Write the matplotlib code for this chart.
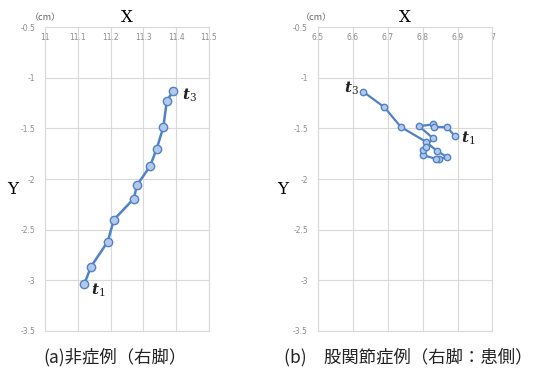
import matplotlib
matplotlib.use("Agg")
import matplotlib.pyplot as plt

plt.rcParams['font.family'] = ['Noto Sans CJK JP', 'DejaVu Sans']
plt.rcParams['mathtext.fontset'] = 'dejavuserif'

# Data
a_x = [11.391, 11.371, 11.361, 11.340, 11.320, 11.280, 11.271, 11.210, 11.191, 11.140, 11.120]
a_y = [-1.127, -1.235, -1.487, -1.706, -1.876, -2.062, -2.193, -2.402, -2.620, -2.866, -3.036]
b_x = [6.630, 6.691, 6.738, 6.809, 6.840, 6.871, 6.847, 6.837, 6.800, 6.800, 6.809, 6.830,
       6.790, 6.829, 6.832, 6.870, 6.892]
b_y = [-1.138, -1.293, -1.487, -1.631, -1.720, -1.787, -1.800, -1.800, -1.763, -1.713, -1.680, -1.598,
       -1.479, -1.462, -1.485, -1.489, -1.574]

a_xticks = [11, 11.1, 11.2, 11.3, 11.4, 11.5]
a_xlabels = ['11', '11.1', '11.2', '11.3', '11.4', '11.5']
b_xticks = [6.5, 6.6, 6.7, 6.8, 6.9, 7.0]
b_xlabels = ['6.5', '6.6', '6.7', '6.8', '6.9', '7']
yticks = [-0.5, -1, -1.5, -2, -2.5, -3, -3.5]
ylabels = ['-0.5', '-1', '-1.5', '-2', '-2.5', '-3', '-3.5']
captions = ['(a)非症例（右脚）', '(b)\u3000股関節症例（右脚：患側）']

W, H = 540, 374
fig = plt.figure(figsize=(W / 100, H / 100), dpi=100)

line_c = '#4f82c6'
fill_c = '#b4c8ea'
grid_c = '#d9d9d9'
tick_c = '#8c8c8c'

def px(x0, y0, x1, y1):
    return [x0 / W, 1 - y1 / H, (x1 - x0) / W, (y1 - y0) / H]

specs = [
    dict(rect=px(45, 27, 209, 331), x=a_x, y=a_y, xt=a_xticks, xl=a_xlabels,
         xlim=(11, 11.5), ms=6.0, lw=1.8,
         t_first=(0, (16, -5)), t_last=(-1, (14, -6)), cap_x=43, X_x=127, Y_x=13, cm_x=45),
    dict(rect=px(317.7, 27, 492.5, 331), x=b_x, y=b_y, xt=b_xticks, xl=b_xlabels,
         xlim=(6.5, 7.0), ms=4.6, lw=1.6,
         t_first=(0, (-12, 3)), t_last=(-1, (14, -2)), cap_x=284, X_x=405, Y_x=283, cm_x=316),
]

for i, s in enumerate(specs):
    ax = fig.add_axes(s['rect'])
    ax.plot(s['x'], s['y'], color=line_c, lw=s['lw'], marker='o', ms=s['ms'],
            markerfacecolor=fill_c, markeredgecolor=line_c, markeredgewidth=1.0, zorder=3)
    ax.set_xlim(*s['xlim'])
    ax.set_ylim(-3.5, -0.5)
    ax.set_xticks(s['xt'])
    ax.set_xticklabels(s['xl'])
    ax.set_yticks(yticks)
    ax.set_yticklabels(ylabels)
    ax.grid(True, color=grid_c, lw=0.8)
    for sp in ax.spines.values():
        sp.set_color(grid_c)
        sp.set_linewidth(0.8)
    ax.tick_params(axis='x', top=True, labeltop=True, bottom=False, labelbottom=False,
                   length=0, pad=-11, labelsize=5.5, labelcolor=tick_c)
    ax.tick_params(axis='y', length=0, pad=7, labelsize=5.5, labelcolor=tick_c)
    for lbl in ax.get_xticklabels():
        lbl.set_fontfamily('DejaVu Sans')
    for lbl in ax.get_yticklabels():
        lbl.set_fontfamily('DejaVu Sans')
    # t labels: t3 is first point (start of array), t1 last
    idx, off = s['t_first']
    ax.annotate(r'$\mathbfit{t}_{\mathit{3}}$', (s['x'][idx], s['y'][idx]),
                xytext=off, textcoords='offset pixels', ha='center', va='center',
                fontsize=11, color='#222222')
    idx, off = s['t_last']
    ax.annotate(r'$\mathbfit{t}_{\mathit{1}}$', (s['x'][idx], s['y'][idx]),
                xytext=off, textcoords='offset pixels', ha='center', va='center',
                fontsize=11, color='#222222')

    fig.text(s['X_x'] / W, 1 - 17 / H, 'X', ha='center', va='center',
             fontsize=12, family='DejaVu Serif')
    fig.text(s['Y_x'] / W, 1 - 189 / H, 'Y', ha='center', va='center',
             fontsize=12, family='DejaVu Serif')
    fig.text(s['cm_x'] / W, 1 - 18 / H, '（cm）', ha='center', va='center',
             fontsize=6.5, color='#666666')
    fig.text(s['cap_x'] / W, 1 - 357 / H, captions[i], ha='left', va='center',
             fontsize=12.5, color='#222222')

fig.savefig('out.png', dpi=100)
